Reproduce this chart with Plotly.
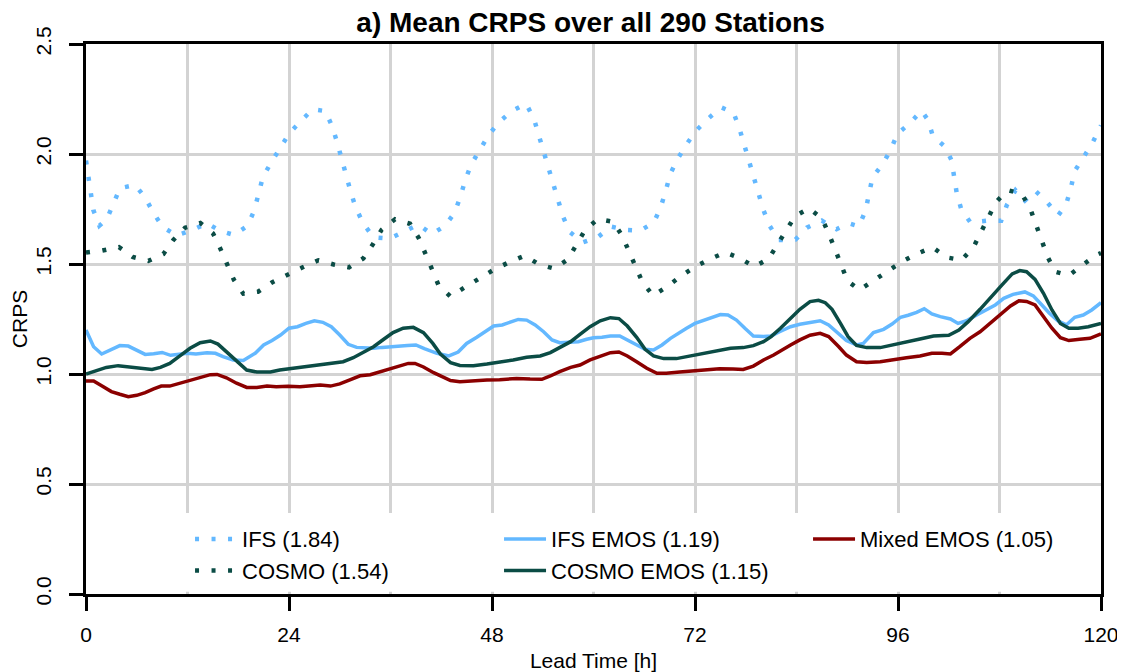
import plotly.graph_objects as go

# ---------------- data ----------------
ifs_h = [0, 0.3, 0.55, 0.87, 1.58, 2.44, 3.23, 4.02, 5.8, 7.0, 7.96, 9.07, 10.7, 12.5, 14.3,
         15.9, 17.5, 19.1, 19.9, 20.4, 20.9, 21.9, 22.9, 24.0, 25.4, 26.8, 28.3, 29.1, 29.7,
         30.2, 30.7, 31.3, 31.9, 32.8, 34.0, 35.9, 39.3, 40.9, 42.45, 43.56, 44.27, 44.82,
         45.53, 46.51, 47.58, 48.84, 50.33, 52.03, 52.97, 53.53, 54.08, 54.63, 55.18, 55.74,
         56.4, 57.23, 58.73, 60.54, 62.08, 63.93, 65.51, 67.13, 67.95, 68.55, 69.06, 69.93,
         70.99, 72.13, 73.55, 75.09, 76.55, 77.26, 77.85, 78.4, 78.95, 79.5, 80.09, 80.84,
         81.87, 83.88, 85.22, 86.99, 88.73, 90.19, 91.37, 92.16, 92.55, 92.98, 94.17, 95.15,
         95.94, 97.44, 98.78, 99.53, 100.12, 101.58, 102.33, 102.64, 102.96, 103.51, 104.57,
         106.62, 108.2, 108.87, 109.89, 111.0, 112.22, 113.64, 114.94, 115.88, 116.44,
         116.87, 117.86, 118.96, 119.83, 120]
ifs_v = [1.97, 1.897, 1.821, 1.745, 1.674, 1.703, 1.773, 1.845, 1.859, 1.802, 1.733, 1.668,
         1.63, 1.653, 1.685, 1.65, 1.632, 1.674, 1.744, 1.818, 1.894, 1.962, 2.027, 2.092,
         2.15, 2.203, 2.195, 2.126, 2.052, 1.976, 1.902, 1.827, 1.755, 1.683, 1.621, 1.615,
         1.679, 1.636, 1.674, 1.732, 1.806, 1.88, 1.952, 2.02, 2.085, 2.145, 2.195, 2.229,
         2.159, 2.085, 2.011, 1.936, 1.862, 1.788, 1.715, 1.644, 1.598, 1.623, 1.67, 1.655,
         1.652, 1.688, 1.759, 1.833, 1.908, 1.977, 2.044, 2.106, 2.161, 2.212, 2.188, 2.115,
         2.041, 1.968, 1.892, 1.82, 1.745, 1.673, 1.609, 1.611, 1.665, 1.697, 1.658, 1.685,
         1.671, 1.742, 1.818, 1.894, 1.953, 2.02, 2.092, 2.141, 2.197, 2.155, 2.082, 2.032,
         1.971, 1.894, 1.818, 1.745, 1.689, 1.697, 1.697, 1.768, 1.835, 1.788, 1.833, 1.78,
         1.721, 1.771, 1.845, 1.921, 1.983, 2.048, 2.117, 2.13]

cosmo_h = [0, 1.93, 3.9, 5.52, 7.37, 9.14, 10.33, 11.71, 13.52, 15.02, 15.88, 16.67, 17.5,
           18.6, 20.34, 22.03, 23.81, 25.62, 27.47, 29.29, 31.1, 32.8, 33.9, 34.96, 36.54,
           38.31, 39.34, 40.17, 40.91, 41.66, 43.08, 44.78, 46.47, 48.21, 50.02, 51.87,
           53.57, 55.38, 56.96, 58.02, 59.01, 60.54, 62.32, 63.38, 64.21, 64.96, 65.79,
           67.05, 68.7, 70.32, 72.01, 73.79, 75.6, 77.34, 78.99, 80.69, 81.75, 82.7, 83.84,
           85.49, 86.99, 87.82, 88.57, 89.28, 90.03, 91.45, 93.14, 94.76, 96.49, 98.27,
           100.08, 101.73, 103.51, 104.89, 105.75, 106.62, 107.57, 108.95, 110.64, 111.63,
           112.34, 113.01, 113.68, 114.58, 116.2, 117.78, 119.43, 120]
cosmo_v = [1.552, 1.561, 1.577, 1.532, 1.514, 1.545, 1.609, 1.665, 1.686, 1.639, 1.57, 1.498,
           1.427, 1.365, 1.374, 1.417, 1.453, 1.485, 1.517, 1.498, 1.485, 1.526, 1.589,
           1.656, 1.703, 1.683, 1.618, 1.548, 1.476, 1.405, 1.352, 1.394, 1.436, 1.474,
           1.508, 1.538, 1.498, 1.479, 1.521, 1.588, 1.655, 1.705, 1.692, 1.629, 1.559,
           1.486, 1.417, 1.356, 1.397, 1.445, 1.488, 1.523, 1.553, 1.526, 1.488, 1.523,
           1.588, 1.655, 1.718, 1.753, 1.708, 1.638, 1.565, 1.494, 1.423, 1.382, 1.424,
           1.47, 1.511, 1.547, 1.576, 1.53, 1.518, 1.574, 1.642, 1.714, 1.78, 1.836, 1.818,
           1.752, 1.68, 1.606, 1.533, 1.465, 1.448, 1.494, 1.541, 1.55]

ifs_emos_h = [0, 0.9, 1.85, 3, 4, 5, 6, 7, 8, 9, 10, 11, 12, 13, 14.3, 15.3, 16.2, 17.4, 18.6,
              20, 21, 22, 23, 24, 25, 26, 27, 28, 29, 30, 31, 32, 33, 34, 35, 36, 37, 38, 39,
              40, 41.5, 42.9, 44, 45, 46.2, 47.4, 48.2, 49.2, 50.1, 51.1, 52.1, 53.1, 54.1,
              55.1, 56, 57.3, 58.2, 59.2, 60, 61, 62, 63.1, 64, 65, 66.1, 67.1, 68.1, 69.1,
              70, 71, 72, 73, 74, 75, 75.9, 76.9, 77.9, 78.9, 80.1, 81, 82, 83.3, 84.4, 85.6,
              86.8, 87.8, 88.8, 89.9, 91.1, 91.9, 93.1, 94.3, 95.3, 96.3, 97.2, 98.2, 99.1,
              100, 101, 102.2, 103.1, 104.1, 105.3, 106.5, 107.5, 108.5, 109.6, 111, 112,
              112.9, 113.9, 114.9, 115.9, 116.9, 117.9, 118.9, 120]
ifs_emos_v = [1.20, 1.124, 1.091, 1.112, 1.129, 1.127, 1.109, 1.089, 1.092, 1.098, 1.085,
              1.089, 1.094, 1.091, 1.097, 1.094, 1.079, 1.064, 1.061, 1.094, 1.132, 1.152,
              1.177, 1.208, 1.215, 1.230, 1.242, 1.235, 1.215, 1.177, 1.135, 1.121, 1.120,
              1.117, 1.121, 1.123, 1.124, 1.129, 1.132, 1.115, 1.094, 1.082, 1.100, 1.139,
              1.167, 1.197, 1.218, 1.223, 1.235, 1.248, 1.245, 1.223, 1.192, 1.155, 1.142,
              1.147, 1.147, 1.158, 1.165, 1.167, 1.173, 1.173, 1.155, 1.132, 1.112, 1.109,
              1.132, 1.162, 1.185, 1.208, 1.230, 1.242, 1.258, 1.270, 1.268, 1.245, 1.208,
              1.173, 1.170, 1.173, 1.192, 1.215, 1.226, 1.236, 1.242, 1.223, 1.188, 1.152,
              1.132, 1.139, 1.188, 1.203, 1.227, 1.258, 1.267, 1.280, 1.297, 1.273, 1.261,
              1.250, 1.230, 1.242, 1.268, 1.291, 1.314, 1.344, 1.362, 1.373, 1.355, 1.318,
              1.276, 1.242, 1.223, 1.258, 1.268, 1.291, 1.324]

cosmo_emos_h = [0, 1.3, 2.4, 3.8, 5.2, 6.4, 7.8, 8.8, 9.9, 11.1, 12.3, 13.5, 14.7, 15.6,
                16.6, 17.8, 19, 20.2, 21.8, 22.9, 24.5, 26.1, 27.7, 29.2, 30.4, 31.6, 32.8,
                34, 35.2, 36.3, 37.5, 38.7, 39.9, 41, 41.9, 43.1, 44.2, 45.8, 47.4, 48.9,
                50.5, 52.1, 53.7, 54.9, 56, 57.3, 58.4, 59.6, 60.8, 62, 63, 64, 65.1, 66.1,
                67.1, 68.3, 69.8, 71.4, 73, 74.6, 76.2, 77.7, 78.9, 80.1, 81, 82.1, 83.3,
                84.4, 85.6, 86.6, 87.4, 88.2, 89.2, 90.1, 91.1, 92.3, 93.9, 95.5, 97, 98.6,
                100.2, 102, 103.2, 104.3, 105.7, 107.1, 108.3, 109.5, 110.4, 111.2, 112.2,
                113.2, 114.2, 115.2, 116.2, 117.3, 118.5, 120]
cosmo_emos_v = [1.000, 1.018, 1.030, 1.038, 1.033, 1.026, 1.021, 1.030, 1.048, 1.082, 1.117,
                1.142, 1.150, 1.136, 1.100, 1.056, 1.018, 1.009, 1.009, 1.018, 1.026, 1.033,
                1.041, 1.048, 1.056, 1.074, 1.097, 1.124, 1.158, 1.188, 1.208, 1.212, 1.188,
                1.139, 1.091, 1.052, 1.039, 1.038, 1.045, 1.053, 1.064, 1.076, 1.082, 1.097,
                1.120, 1.147, 1.180, 1.215, 1.242, 1.256, 1.252, 1.218, 1.167, 1.112, 1.082,
                1.070, 1.070, 1.082, 1.094, 1.106, 1.117, 1.120, 1.129, 1.147, 1.170, 1.208,
                1.253, 1.294, 1.329, 1.335, 1.324, 1.294, 1.230, 1.170, 1.130, 1.120, 1.120,
                1.132, 1.144, 1.159, 1.173, 1.176, 1.200, 1.238, 1.294, 1.351, 1.405, 1.455,
                1.470, 1.465, 1.430, 1.367, 1.291, 1.230, 1.208, 1.208, 1.215, 1.230]

mixed_emos_h = [0, 0.9, 1.9, 3, 4, 5, 6, 7, 8, 8.9, 9.9, 11.1, 12.3, 13.5, 14.7, 15.5, 16.6,
                17.8, 19, 20.2, 21.4, 22.5, 23.9, 25.3, 26.5, 27.7, 28.9, 30, 31.2, 32.4,
                33.6, 34.8, 35.9, 37.1, 38.1, 38.9, 39.9, 41.1, 41.9, 43.1, 44.2, 45.8, 47.4,
                48.9, 50.9, 52.5, 53.9, 54.9, 56, 57.3, 58.4, 59.6, 60.8, 62, 63, 64, 65.1,
                66.3, 67.5, 68.6, 70.2, 71.8, 73.4, 74.9, 76.5, 77.7, 78.9, 80.1, 81.3, 82.1,
                83.3, 84.4, 85.6, 86.8, 87.8, 89, 89.9, 91.1, 92.3, 93.9, 95.5, 97, 98.6, 100,
                101.2, 102.2, 103.3, 104.5, 105.7, 106.9, 108.1, 109.3, 110.3, 111.2, 112.2,
                113.2, 114.2, 115.2, 116.2, 117.5, 118.7, 120]
mixed_emos_v = [0.968, 0.968, 0.945, 0.920, 0.908, 0.897, 0.903, 0.915, 0.932, 0.945, 0.945,
                0.958, 0.973, 0.985, 0.997, 0.998, 0.983, 0.958, 0.939, 0.939, 0.945, 0.942,
                0.944, 0.942, 0.945, 0.950, 0.945, 0.955, 0.973, 0.992, 0.997, 1.011, 1.024,
                1.038, 1.048, 1.048, 1.032, 1.006, 0.992, 0.970, 0.965, 0.970, 0.973, 0.974,
                0.980, 0.977, 0.976, 0.991, 1.011, 1.030, 1.041, 1.064, 1.082, 1.097, 1.100,
                1.082, 1.056, 1.026, 1.003, 1.003, 1.009, 1.014, 1.017, 1.024, 1.023, 1.021,
                1.036, 1.064, 1.086, 1.106, 1.132, 1.155, 1.176, 1.185, 1.170, 1.124, 1.086,
                1.056, 1.052, 1.056, 1.067, 1.074, 1.082, 1.094, 1.094, 1.091, 1.124, 1.162,
                1.192, 1.230, 1.271, 1.309, 1.333, 1.330, 1.314, 1.264, 1.208, 1.165, 1.152,
                1.158, 1.162, 1.182]

series_names = ["IFS (1.84)", "COSMO (1.54)", "IFS EMOS (1.19)",
                "COSMO EMOS (1.15)", "Mixed EMOS (1.05)"]
x_ticks = [0, 24, 48, 72, 96, 120]
y_ticks = [0.0, 0.5, 1.0, 1.5, 2.0, 2.5]

# ---------------- styling ----------------
C_IFS = "#63B8FF"
C_COSMO = "#0B4C45"
C_MIXED = "#8B0000"
FONT = "Liberation Sans, Arial, sans-serif"
DOT = "4px,12.5px"

# the page body has an 8px default margin, so the figure is 8px smaller than the window
FIG_W, FIG_H = 1117, 664

fig = go.Figure()
fig.add_trace(go.Scatter(x=ifs_h, y=ifs_v, mode="lines", name=series_names[0], legendrank=1,
                         line=dict(color=C_IFS, width=4.5, dash=DOT)))
fig.add_trace(go.Scatter(x=cosmo_h, y=cosmo_v, mode="lines", name=series_names[1], legendrank=4,
                         line=dict(color=C_COSMO, width=4.5, dash=DOT)))
fig.add_trace(go.Scatter(x=ifs_emos_h, y=ifs_emos_v, mode="lines", name=series_names[2],
                         legendrank=2, line=dict(color=C_IFS, width=3.5)))
fig.add_trace(go.Scatter(x=cosmo_emos_h, y=cosmo_emos_v, mode="lines", name=series_names[3],
                         legendrank=5, line=dict(color=C_COSMO, width=3.5)))
fig.add_trace(go.Scatter(x=mixed_emos_h, y=mixed_emos_v, mode="lines", name=series_names[4],
                         legendrank=3, line=dict(color=C_MIXED, width=3.5)))

# white legend box hiding the grid
fig.add_shape(type="rect", xref="x", yref="y", x0=0, x1=120, y0=0.01, y1=0.368,
              fillcolor="white", line=dict(width=0), layer="between")

axis_common = dict(showline=True, linecolor="black", linewidth=2.5, mirror=True,
                   ticks="outside", ticklen=14, tickwidth=2.5, tickcolor="black",
                   showgrid=True, gridcolor="#D3D3D3", gridwidth=2.5, zeroline=False,
                   automargin=False,
                   tickfont=dict(family=FONT, size=21, color="black"))

fig.update_xaxes(range=[0, 120], tickvals=x_ticks, ticklabelstandoff=6,
                 minor=dict(dtick=12, tick0=0, showgrid=True, gridcolor="#D3D3D3",
                            gridwidth=2.5, ticks=""),
                 title=dict(text="Lead Time [h]", font=dict(family=FONT, size=21, color="black"),
                            standoff=9),
                 **axis_common)
fig.update_yaxes(range=[0, 2.5], tickvals=y_ticks, tickformat=".1f", tickangle=-90,
                 ticklabelstandoff=10,
                 title=dict(text="CRPS", font=dict(family=FONT, size=21, color="black"),
                            standoff=0),
                 **axis_common)

fig.update_layout(
    width=FIG_W, height=FIG_H,
    margin=dict(l=78, r=24, t=36, b=78, autoexpand=False),
    paper_bgcolor="white", plot_bgcolor="white",
    title=dict(text="<b>a) Mean CRPS over all 290 Stations</b>", x=0.5215, xanchor="center",
               y=1 - 14 / FIG_H, yanchor="middle", yref="container",
               font=dict(family=FONT, size=28, color="black")),
    legend=dict(orientation="h", x=0.1025, xanchor="left", y=0.138, yanchor="top",
                entrywidth=252, entrywidthmode="pixels", itemwidth=42,
                bgcolor="rgba(0,0,0,0)", traceorder="normal",
                font=dict(family=FONT, size=22, color="black")),
    showlegend=True,
)

fig.write_html("out.html")
